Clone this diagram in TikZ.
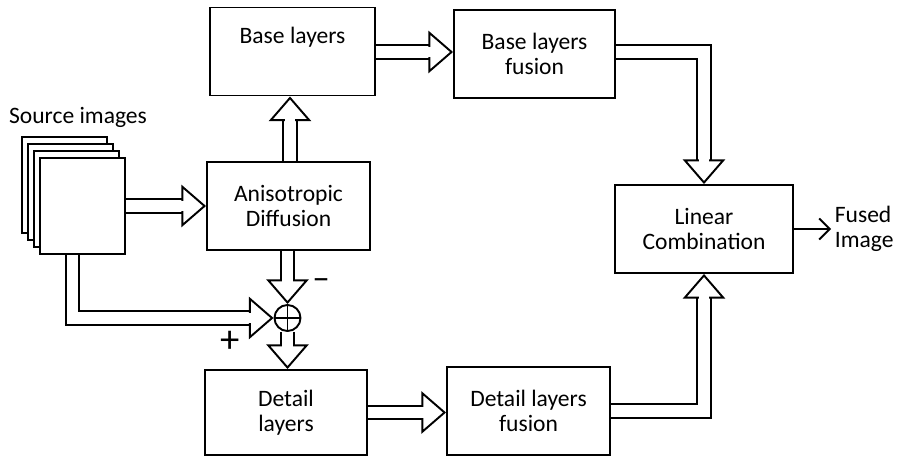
\documentclass[tikz,border=0pt]{standalone}
\usepackage{fontspec}
\setmainfont{Carlito}
\usetikzlibrary{arrows.meta,calc}

\tikzset{
  box/.style={draw, line width=1.1pt, align=center, minimum height=1.76cm, inner sep=2pt, font=\fontsize{13.4}{14.2}\selectfont},
  flow/.style={line width=1.1pt, double, double distance=6.5pt, -{Triangle[open, length=14pt, width=24pt, line width'=1.1pt]},
    postaction={draw=white, double=white, line width=0pt, double distance=6.2pt, -, shorten >=12pt, shorten <=1pt}},
}

\begin{document}
\begin{tikzpicture}
\useasboundingbox (0,0) rectangle (17.98,9.24);
% blocks
\node[box, minimum width=3.3cm, text depth=0.64cm] (base) at (5.85,8.21) {Base layers};
\node[box, minimum width=3.22cm] (bfus) at (10.69,8.16) {Base layers\\fusion};
\node[box, minimum width=3.26cm] (aniso) at (5.77,5.12) {Anisotropic\\Diffusion};
\node[box, minimum width=3.56cm] (linc) at (14.08,4.66) {Linear\\Combination};
\node[box, minimum width=3.24cm, minimum height=1.7cm] (det) at (5.72,0.99) {Detail\\layers};
\node[box, minimum width=3.26cm] (dfus) at (10.57,1.02) {Detail layers\\fusion};
% source images
\foreach \k in {3,2,1}
  \draw[line width=1.1pt, fill=white] (0.80-0.12*\k,4.16+0.14*\k) rectangle ++(1.7,1.92);
\node[draw, line width=1.1pt, fill=white, minimum width=1.7cm, minimum height=1.92cm] (src) at (1.65,5.12) {};
\node[font=\fontsize{13.4}{14.2}\selectfont] (srclbl) at (1.56,6.90) {Source images};
% summing point
\node[draw, circle, line width=1.1pt, minimum size=0.52cm, inner sep=0pt] (sum) at (5.75,2.88) {};
\draw[line width=0.8pt] (sum.north) -- (sum.south) (sum.west) -- (sum.east);
\node[font=\fontsize{20}{22}\selectfont] (minus) at (6.42,3.56) {–};
\node[font=\fontsize{22}{24}\selectfont] (plus) at (4.60,2.40) {+};
% output
\node[anchor=west, align=left, inner sep=2pt, font=\fontsize{13.4}{14.2}\selectfont] (fused) at (16.62,4.66) {Fused\\Image};
% connectors
\draw[flow] (src.east |- aniso.west) -- (aniso.west);
\draw[flow] (aniso.north -| 5.8,0) -- (base.south -| 5.8,0);
\draw[flow] (base.east |- 0,8.2) -- (bfus.west |- 0,8.2);
\draw[flow] (bfus.east |- 0,8.2) -| (linc.north);
\draw[flow] (dfus.east |- 0,1.02) -| (linc.south);
\draw[flow] (aniso.south -| sum.north) -- (sum.north);
\draw[flow] ([xshift=-0.2cm]src.south) |- (sum.west);
\draw[flow] (sum.south) -- (det.north -| sum.south);
\draw[flow] (det.east |- 0,0.99) -- (dfus.west |- 0,0.99);
\draw[line width=1.1pt, -{Straight Barb[length=6pt, width=12pt]}] (linc.east) -- (fused.west |- linc.east);
\end{tikzpicture}
\end{document}
